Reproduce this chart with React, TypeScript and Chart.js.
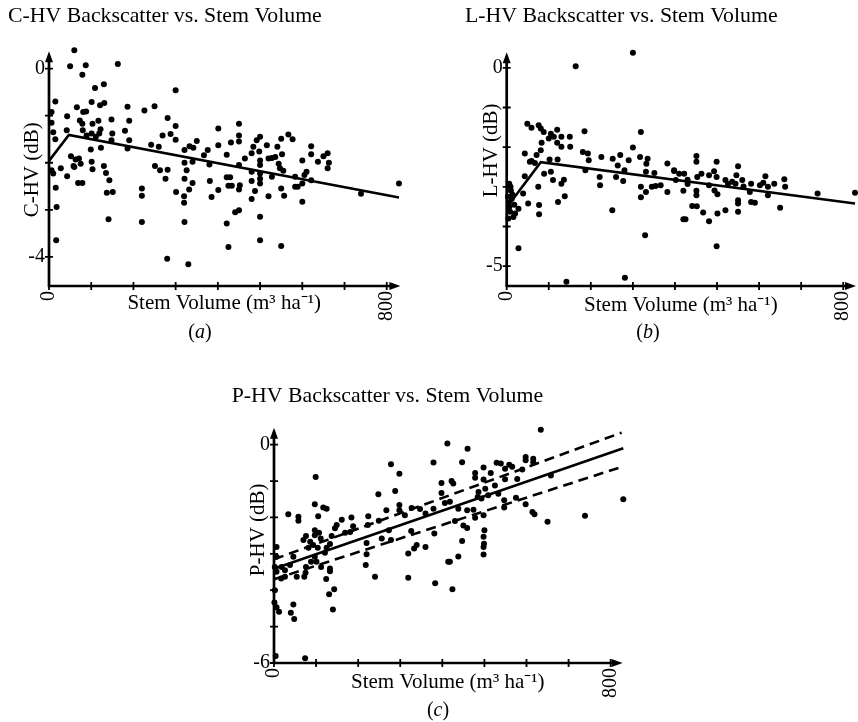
import React, { useEffect, useRef } from 'react';
import { Chart, registerables } from 'chart.js';

Chart.register(...registerables);

const FONT = "'Liberation Serif', 'Times New Roman', Times, serif";

// ---------- shared axis ticks ----------
const volumeTicks = [0, 100, 200, 300, 400, 500, 600, 700, 800];
const volumeLabels = [0, 800];
const volumeTitle = 'Stem Volume (m³ ha⁻¹)';

// ---------- (a) C-HV ----------
const cVolume = [
  60, 50, 87, 79, 163, 109, 130, 300,
  15, 6, 6, 10, 15, 6, 10, 16, 18, 17,
  43, 66, 81, 88, 101, 121, 131, 73, 79, 80, 103, 117, 148, 190, 186, 226, 250, 281, 300, 288, 269, 300, 42,
  89, 101, 111, 119, 122, 150, 148, 180, 190, 123, 99, 186,
  242, 260, 251, 263, 281, 276, 301, 220, 220, 220, 141, 137, 151, 143, 135, 130, 103, 101, 58, 52, 63, 71, 75, 60, 43, 28, 69, 79,
  321, 333, 342, 350, 321, 340, 326, 321, 340, 332, 320, 320, 321, 280, 330,
  367, 376, 380, 381, 385, 401, 401, 401,
  450, 450, 450, 431, 421, 421, 429, 425, 433, 452, 450, 450, 464, 480, 484, 492, 500, 516, 498, 500,
  500, 500, 500, 500, 480, 480, 488, 480, 500, 500, 520, 520, 528, 536, 541, 550, 552, 544, 547, 555,
  528, 550, 557, 550, 567, 577, 583, 583, 589, 600, 610, 605, 600, 600, 621, 621, 621, 637, 650, 660,
  663, 660, 441, 450, 421, 425, 739, 829,
];
const cBackscatter = [
  0.39, 0.05, 0.07, -0.13, 0.10, -0.41, -0.33, -0.46,
  -0.70, -0.92, -1.15, -1.35, -1.50, -2.16, -2.23, -2.53, -2.94, -3.65,
  -1.01, -0.82, -0.92, -0.91, -0.71, -0.78, -0.73, -1.10, -1.17, -1.31, -1.17, -1.11, -1.08, -1.11, -0.81, -0.89, -0.80, -1.05, -1.22, -1.39, -1.42, -1.51, -1.31,
  -1.42, -1.38, -1.45, -1.38, -1.29, -1.38, -1.52, -1.32, -1.52, -1.68, -1.72, -1.70,
  -1.62, -1.66, -2.07, -2.16, -2.15, -2.34, -2.62, -2.55, -2.70, -3.26, -3.20, -2.64, -2.62, -2.37, -2.22, -2.07, -2.14, -1.98, -2.07, -1.86, -1.93, -1.91, -2.02, -2.09, -2.29, -2.12, -2.43, -2.43,
  -1.73, -1.65, -1.68, -1.54, -2.00, -1.98, -2.16, -2.34, -2.43, -2.57, -2.71, -2.85, -3.26, -4.04, -4.16,
  -1.84, -1.73, -2.04, -2.39, -2.73, -2.58, -1.27, -1.63,
  -1.17, -1.42, -1.55, -1.57, -1.83, -2.31, -2.31, -2.49, -2.49, -2.48, -2.57, -2.05, -1.91, -1.80, -1.66, -1.52, -1.45, -1.63, -1.76, -1.95,
  -2.05, -2.23, -2.34, -2.44, -2.19, -2.39, -2.60, -2.77, -3.15, -3.65, -2.71, -1.91, -1.90, -1.88, -1.66, -1.49, -1.82, -2.02, -2.12, -2.17,
  -2.30, -2.55, -2.70, -3.77, -1.40, -1.50, -2.30, -2.51, -2.51, -1.95, -2.19, -2.26, -2.44, -2.83, -1.65, -1.82, -2.37, -1.98, -1.86, -1.80,
  -2.00, -2.12, -3.05, -3.01, -3.29, -3.79, -2.66, -2.44,
];
const cFitVolume = [0, 47, 829];
const cFitBackscatter = [-1.96, -1.41, -2.74];
const cYTicks = [0, -1, -2, -3, -4];
const cYLabels = [0, -4];

// ---------- (b) L-HV ----------
const lVolume = [
  164, 300, 49, 59, 76, 81, 88, 100, 105, 120, 112, 120, 130, 150, 151, 130, 185, 83, 81, 71,
  43, 59, 67, 102, 121, 105, 110, 130, 136, 122, 138, 89, 75, 77, 43, 51, 39, 28, 20, 16,
  6, 9, 12, 6, 8, 4, 28, 142, 281, 181, 193, 195, 187, 225, 221, 222, 252, 264, 260, 280,
  277, 270, 290, 300, 317, 335, 332, 331, 319, 319, 331, 319, 345, 354, 366, 351, 382, 382, 398, 251,
  329, 10, 14, 5, 18, 3, 55, 77,
  398, 402, 410, 422, 430, 430, 420, 441, 452, 420, 425, 451, 451, 453, 463, 451, 451, 467, 481, 481,
  481, 493, 499, 499, 494, 501, 501, 499, 520, 526, 520, 536, 544, 550, 546, 560, 550, 550, 550, 563,
  581, 578, 581, 590, 602, 610, 615, 621, 621, 636, 650, 660, 662, 739, 828,
];
const lBackscatter = [
  0.04, 0.38, -1.41, -1.51, -1.45, -1.53, -1.62, -1.78, -1.66, -1.56, -1.74, -1.89, -1.74, -1.74, -1.99, -1.99, -1.60, -1.89, -2.08, -2.20,
  -2.16, -2.35, -2.40, -2.31, -2.31, -2.62, -2.83, -2.92, -2.82, -3.38, -3.24, -2.67, -3.00, -3.69, -2.73, -3.42, -3.17, -3.55, -3.67, -3.76,
  -2.92, -3.00, -3.30, -3.51, -3.63, -3.80, -4.55, -5.39, -5.29, -2.12, -2.16, -2.33, -2.58, -2.25, -2.75, -2.96, -2.29, -2.46, -2.75, -2.58,
  -2.85, -2.20, -2.33, -2.01, -2.25, -2.29, -2.42, -2.62, -3.00, -3.26, -3.13, -1.62, -3.00, -2.98, -2.96, -2.65, -3.13, -2.41, -2.58, -3.59,
  -4.22, -3.10, -3.20, -3.40, -3.45, -3.25, -2.37, -3.46,
  -2.60, -2.83, -2.67, -2.67, -2.82, -2.93, -3.10, -3.48, -3.49, -3.82, -3.82, -2.22, -2.37, -2.75, -2.67, -3.10, -3.21, -3.65, -3.87, -2.71,
  -2.96, -2.61, -2.37, -2.75, -3.09, -3.19, -3.67, -4.50, -2.83, -2.93, -3.59, -2.87, -2.92, -2.48, -2.71, -2.83, -3.34, -3.42, -3.63, -2.99,
  -2.92, -3.13, -3.38, -3.40, -2.96, -2.90, -2.73, -3.00, -3.21, -2.92, -3.53, -2.81, -3.00, -3.17, -3.15,
];
const lFitVolume = [0, 81, 828];
const lFitBackscatter = [-3.52, -2.38, -3.42];
const lYTicks = [0, -1, -2, -3, -4, -5];
const lYLabels = [0, -5];

// ---------- (c) P-HV ----------
const pVolume = [
  412, 278, 298, 379, 398, 398, 99, 248, 288, 97, 117, 125, 34, 58, 58, 105, 161, 149, 145, 184,
  188, 224, 223, 249, 267, 298, 298, 311, 327, 347, 379, 360, 381, 360, 414, 383, 319, 319, 339, 333,
  326, 273, 256, 278, 220, 220, 218, 240, 181, 169, 137, 133, 125, 121, 133, 133, 124, 143, 131, 140,
  97, 97, 107, 111, 76, 70, 86, 93, 82, 104, 97, 88, 101, 112, 76, 75, 72, 54, 46, 38,
  26, 18, 17, 26, 6, 6, 2, 6, 2, 1, 6, 12, 46, 40, 48, 4, 74,
  634, 460, 447, 422, 426, 478, 478, 498, 498, 515, 529, 539, 549, 559, 566, 578, 598, 598, 616, 616,
  590, 549, 525, 502, 486, 484, 493, 509, 498, 478, 533, 547, 547, 575, 598, 614, 619, 658, 650, 739,
  830, 406, 418, 430, 450, 459, 447, 438, 418, 424, 500, 498, 498, 498, 438, 459, 474, 499,
];
const pBackscatter = [
  0.03, -0.54, -0.80, -0.49, -1.05, -1.33, -0.89, -1.36, -1.27, -1.64, -1.73, -1.76, -1.91, -1.98, -2.09, -1.97, -2.06, -2.21, -2.30, -2.00,
  -2.24, -1.97, -2.21, -2.09, -1.80, -1.66, -1.80, -1.94, -1.74, -1.77, -1.76, -1.89, -2.44, -2.81, -3.22, -3.81, -2.99, -3.66, -2.76, -2.85,
  -2.37, -2.35, -2.58, -2.62, -2.70, -3.01, -3.31, -3.63, -2.40, -2.42, -2.51, -2.73, -2.83, -2.97, -3.40, -3.48, -3.69, -3.97, -4.11, -4.53,
  -2.35, -2.49, -2.42, -2.58, -2.51, -2.62, -2.67, -2.76, -2.83, -2.83, -3.08, -3.22, -3.22, -3.36, -3.36, -3.52, -3.63, -3.63, -3.08, -3.31,
  -3.45, -3.36, -3.68, -3.63, -2.81, -3.08, -3.36, -3.49, -4.00, -4.34, -4.47, -4.59, -4.39, -4.62, -4.79, -5.81, -5.87,
  0.41, -0.11, -0.48, -1.00, -1.07, -0.78, -0.91, -0.63, -0.96, -0.78, -0.50, -0.52, -0.66, -0.55, -0.61, -0.94, -0.34, -0.43, -0.39, -0.48,
  -0.68, -0.95, -1.12, -1.21, -1.30, -1.44, -1.48, -1.39, -1.94, -2.01, -1.35, -1.53, -1.73, -1.46, -1.64, -1.85, -1.91, -0.85, -2.12, -1.95,
  -1.50, -1.60, -1.57, -2.10, -2.22, -2.29, -2.65, -3.07, -3.22, -3.97, -2.35, -2.53, -2.81, -3.02, -1.76, -1.80, -1.79, -2.72,
];
const pFitVolume = [0, 830];
const pFitBackscatter = [-3.41, -0.10];
const pUpperVolume = [0, 826];
const pUpperBackscatter = [-3.15, 0.33];
const pLowerVolume = [0, 826];
const pLowerBackscatter = [-3.70, -0.61];
const pYTicks = [0, -1, -2, -3, -4, -5, -6];
const pYLabels = [0, -6];

type Line = { xs: number[]; ys: number[]; dash?: number[] };
type Spec = {
  title: string;
  yTitle: string;
  xs: number[];
  ys: number[];
  lines: Line[];
  yTicks: number[];
  yLabels: number[];
  yMin: number;
  yMax: number;
  xMax: number;
  box: { left: number; top: number; w: number; h: number };
  pad: { left: number; right: number; bottom: number };
  titlePad: { top: number; bottom: number };
  yWidth: number;
  xHeight: number;
  xTitleLift: number;
  yTitleDx: number;
  yTitleAt: number;
};

const pairs = (xs: number[], ys: number[]) =>
  xs.slice(0, Math.min(xs.length, ys.length)).map((x, i) => ({ x, y: ys[i] }));

const axisDecor = {
  id: 'axisDecor',
  afterDatasetsDraw(chart: any, _args: any, opts: any) {
    const { ctx, chartArea, scales } = chart;
    const { left, right, top, bottom } = chartArea;
    const xs = scales.x;
    const ys = scales.y;
    ctx.save();
    ctx.strokeStyle = '#000';
    ctx.fillStyle = '#000';
    ctx.lineWidth = 2.7;
    ctx.lineCap = 'butt';
    ctx.beginPath();
    ctx.moveTo(left, bottom + 1);
    ctx.lineTo(left, top + 8);
    ctx.moveTo(left - 1, bottom);
    ctx.lineTo(right - 8, bottom);
    ctx.stroke();
    // arrowheads
    ctx.beginPath();
    ctx.moveTo(left, top - 1);
    ctx.lineTo(left - 4, top + 10);
    ctx.lineTo(left + 4, top + 10);
    ctx.closePath();
    ctx.fill();
    ctx.beginPath();
    ctx.moveTo(right + 1, bottom);
    ctx.lineTo(right - 10, bottom - 4);
    ctx.lineTo(right - 10, bottom + 4);
    ctx.closePath();
    ctx.fill();
    // tick marks crossing the axes
    ctx.lineWidth = 1.8;
    ctx.beginPath();
    xs.ticks.forEach((t: any) => {
      const px = xs.getPixelForValue(t.value);
      ctx.moveTo(px, bottom - 4);
      ctx.lineTo(px, bottom + 4);
    });
    ys.ticks.forEach((t: any) => {
      const py = ys.getPixelForValue(t.value);
      ctx.moveTo(left - 4, py);
      ctx.lineTo(left + 4, py);
    });
    ctx.stroke();
    // y axis title
    if (opts && opts.yTitle) {
      const tx = left + opts.dx;
      const ty = ys.getPixelForValue(opts.at);
      ctx.translate(tx, ty);
      ctx.rotate(-Math.PI / 2);
      ctx.textAlign = 'center';
      ctx.textBaseline = 'middle';
      ctx.font = `21px ${FONT}`;
      ctx.fillText(opts.yTitle, 0, 0);
    }
    ctx.restore();
  },
};

function buildConfig(s: Spec): any {
  const datasets: any[] = [
    {
      data: pairs(s.xs, s.ys),
      pointRadius: 3,
      pointHoverRadius: 3,
      pointBackgroundColor: '#000',
      backgroundColor: '#000',
      borderColor: '#000',
      pointBorderWidth: 0,
      showLine: false,
      clip: false,
    },
    ...s.lines.map((l) => ({
      data: pairs(l.xs, l.ys),
      showLine: true,
      borderColor: '#000',
      borderWidth: 2.6,
      borderDash: l.dash || [],
      pointRadius: 0,
      pointHoverRadius: 0,
      fill: false,
      clip: false,
    })),
  ];
  return {
    type: 'scatter',
    data: { datasets },
    plugins: [axisDecor],
    options: {
      responsive: false,
      animation: false,
      events: [],
      layout: { padding: { left: s.pad.left, right: s.pad.right, top: 0, bottom: s.pad.bottom } },
      plugins: {
        legend: { display: false },
        tooltip: { enabled: false },
        title: {
          display: true,
          text: s.title,
          align: 'start',
          color: '#000',
          font: { family: FONT, size: 21.8, weight: 'normal' },
          padding: { top: s.titlePad.top, bottom: s.titlePad.bottom },
        },
        axisDecor: { yTitle: s.yTitle, dx: s.yTitleDx, at: s.yTitleAt },
      },
      scales: {
        x: {
          type: 'linear',
          min: 0,
          max: s.xMax,
          grid: { display: false, drawTicks: false },
          border: { display: false },
          afterBuildTicks: (sc: any) => {
            sc.ticks = volumeTicks.map((v) => ({ value: v }));
          },
          afterFit: (sc: any) => {
            sc.height = s.xHeight;
            sc.paddingLeft = 0;
            sc.paddingRight = 0;
            sc.paddingTop = 0;
            sc.paddingBottom = 0;
          },
          ticks: {
            autoSkip: false,
            minRotation: 90,
            maxRotation: 90,
            padding: 5,
            color: '#000',
            font: { family: FONT, size: 20 },
            callback: (v: number) => (volumeLabels.includes(v) ? String(v) : ''),
          },
          title: {
            display: true,
            text: volumeTitle,
            color: '#000',
            font: { family: FONT, size: 21 },
            padding: { top: 0, bottom: s.xTitleLift },
          },
        },
        y: {
          type: 'linear',
          min: s.yMin,
          max: s.yMax,
          grid: { display: false, drawTicks: false },
          border: { display: false },
          afterBuildTicks: (sc: any) => {
            sc.ticks = s.yTicks.map((v) => ({ value: v }));
          },
          afterFit: (sc: any) => {
            sc.width = s.yWidth;
            sc.paddingLeft = 0;
            sc.paddingRight = 0;
            sc.paddingTop = 0;
            sc.paddingBottom = 0;
          },
          ticks: {
            autoSkip: false,
            padding: 4,
            color: '#000',
            font: { family: FONT, size: 20 },
            callback: (v: number) => (s.yLabels.includes(v) ? String(v) : ''),
          },
          title: { display: false, text: s.yTitle },
        },
      },
    },
  };
}

const specs: Spec[] = [
  {
    title: 'C-HV Backscatter vs. Stem Volume',
    yTitle: 'C-HV (dB)',
    xs: cVolume,
    ys: cBackscatter,
    lines: [{ xs: cFitVolume, ys: cFitBackscatter }],
    yTicks: cYTicks,
    yLabels: cYLabels,
    yMin: -4.62,
    yMax: 0.35,
    xMax: 830,
    box: { left: 0, top: 0, w: 430, h: 340 },
    pad: { left: 8, right: 30.6, bottom: 9 },
    titlePad: { top: 3, bottom: 23 },
    yWidth: 41,
    xHeight: 45,
    xTitleLift: 15,
    yTitleDx: -16.5,
    yTitleAt: -2.15,
  },
  {
    title: 'L-HV Backscatter vs. Stem Volume',
    yTitle: 'L-HV (dB)',
    xs: lVolume,
    ys: lBackscatter,
    lines: [{ xs: lFitVolume, ys: lFitBackscatter }],
    yTicks: lYTicks,
    yLabels: lYLabels,
    yMin: -5.5,
    yMax: 0.365,
    xMax: 828,
    box: { left: 430, top: 0, w: 428, h: 340 },
    pad: { left: 35, right: 1.1, bottom: 9 },
    titlePad: { top: 3, bottom: 24.2 },
    yWidth: 41.7,
    xHeight: 45,
    xTitleLift: 13.1,
    yTitleDx: -15,
    yTitleAt: -2.08,
  },
  {
    title: 'P-HV Backscatter vs. Stem Volume',
    yTitle: 'P-HV (dB)',
    xs: pVolume,
    ys: pBackscatter,
    lines: [
      { xs: pFitVolume, ys: pFitBackscatter },
      { xs: pUpperVolume, ys: pUpperBackscatter, dash: [10, 6] },
      { xs: pLowerVolume, ys: pLowerBackscatter, dash: [10, 6] },
    ],
    yTicks: pYTicks,
    yLabels: pYLabels,
    yMin: -6,
    yMax: 0.44,
    xMax: 826,
    box: { left: 220, top: 380, w: 420, h: 342 },
    pad: { left: 11.7, right: 18.4, bottom: 9 },
    titlePad: { top: 3.1, bottom: 19.4 },
    yWidth: 42.3,
    xHeight: 50,
    xTitleLift: 18.4,
    yTitleDx: -16,
    yTitleAt: -2.34,
  },
];

const captions = [
  { letter: 'a', cx: 200, cy: 331 },
  { letter: 'b', cx: 648, cy: 331 },
  { letter: 'c', cx: 438, cy: 709 },
];

function Panel({ spec }: { spec: Spec }) {
  const ref = useRef<HTMLCanvasElement | null>(null);
  useEffect(() => {
    if (!ref.current) return;
    const chart = new Chart(ref.current, buildConfig(spec));
    return () => chart.destroy();
  }, [spec]);
  const { left, top, w, h } = spec.box;
  return (
    <canvas
      ref={ref}
      width={w}
      height={h}
      style={{ position: 'absolute', left, top, width: w, height: h }}
    />
  );
}

export default function App() {
  return (
    <div
      style={{
        position: 'absolute',
        left: 0,
        top: 0,
        width: 858,
        height: 722,
        overflow: 'hidden',
        background: '#fff',
      }}
    >
      {specs.map((s, i) => (
        <Panel key={i} spec={s} />
      ))}
      {captions.map((c) => (
        <div
          key={c.letter}
          style={{
            position: 'absolute',
            left: c.cx - 25,
            top: c.cy - 12,
            width: 50,
            height: 24,
            lineHeight: '24px',
            textAlign: 'center',
            fontFamily: FONT,
            fontSize: 20,
            color: '#000',
          }}
        >
          (<i>{c.letter}</i>)
        </div>
      ))}
    </div>
  );
}
